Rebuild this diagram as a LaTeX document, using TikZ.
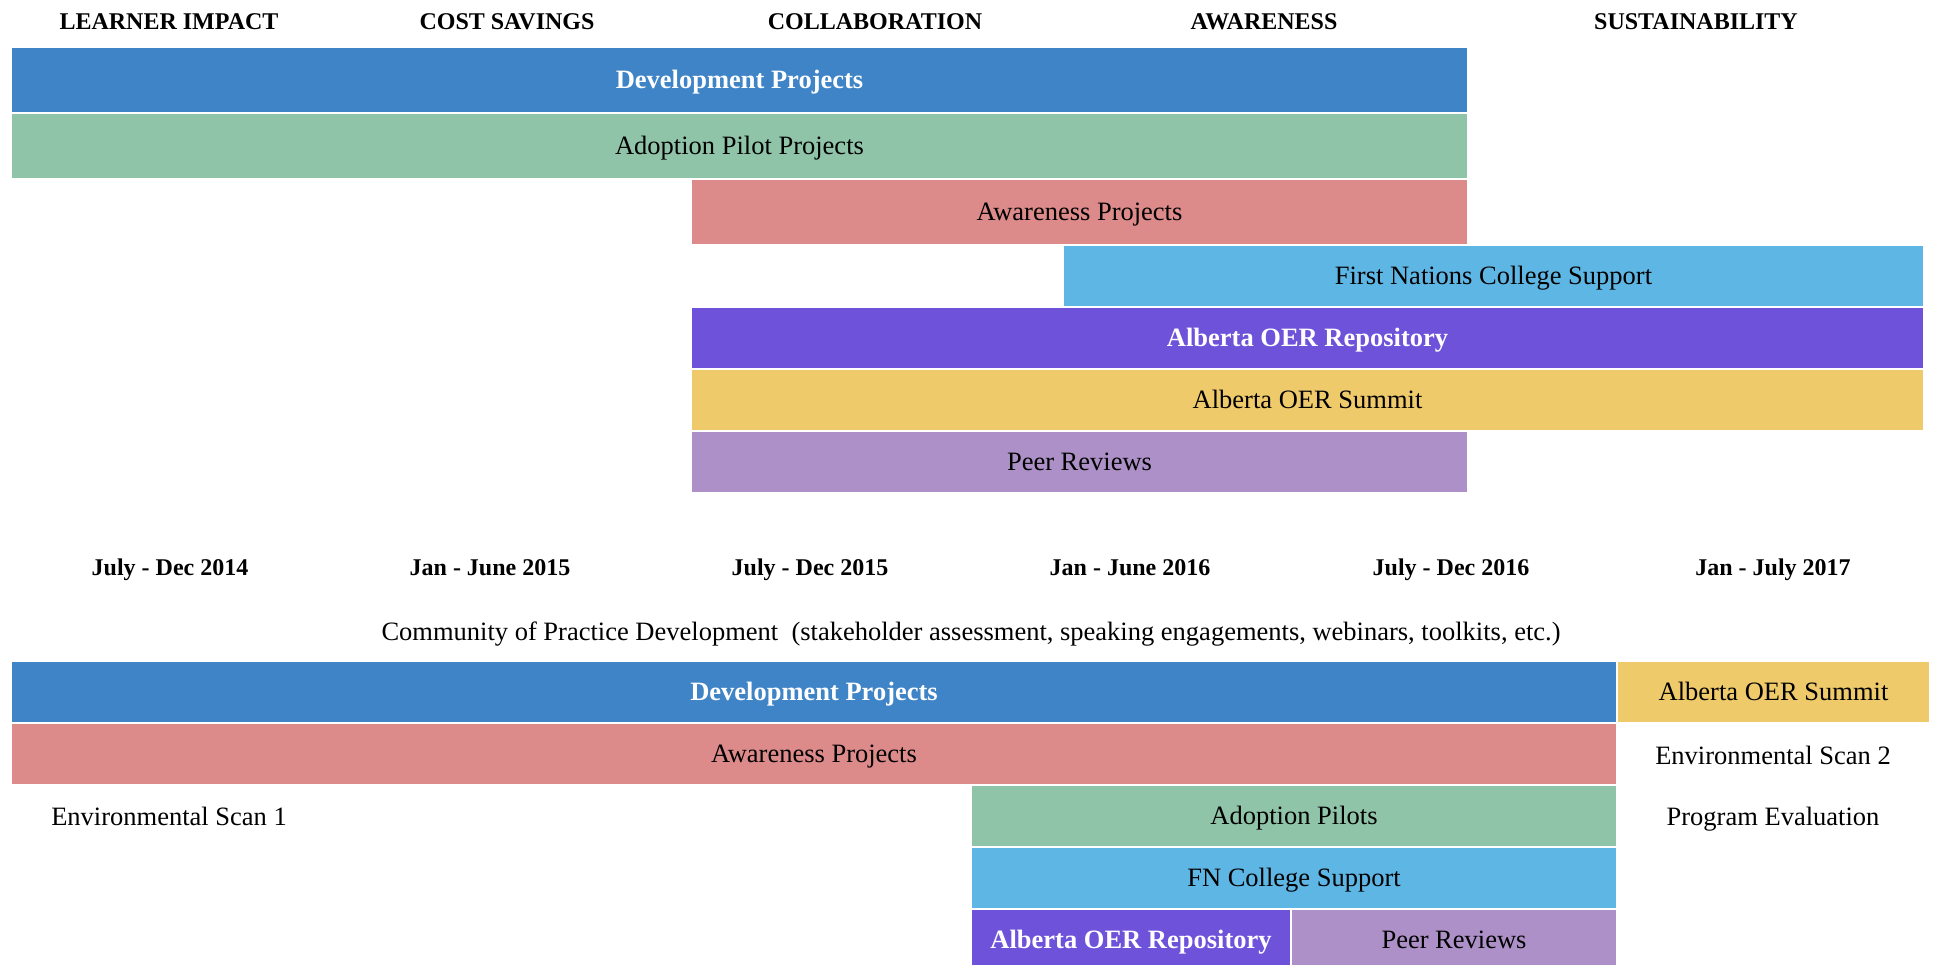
\documentclass[tikz,border=0pt]{standalone}
\usepackage{fontspec}
\setmainfont{Liberation Serif}
\definecolor{cblue}{RGB}{63,132,198}
\definecolor{cgreen}{RGB}{143,196,169}
\definecolor{cpink}{RGB}{220,138,138}
\definecolor{clblue}{RGB}{94,182,228}
\definecolor{cpurple}{RGB}{110,83,218}
\definecolor{cyellow}{RGB}{239,202,107}
\definecolor{clav}{RGB}{172,144,199}
\tikzset{
  bar/.style={draw=none, inner sep=0pt, text height=17.5pt, text depth=0pt,
    font=\fontsize{26.5}{30}\selectfont},
  wbar/.style={bar, text=white, font=\fontsize{26.5}{30}\selectfont\bfseries},
  hdr/.style={inner sep=0pt, text height=15.9pt, text depth=0pt,
    font=\fontsize{24}{28}\selectfont\bfseries},
  lbl/.style={inner sep=0pt, text height=17.5pt, text depth=0pt,
    font=\fontsize{26.5}{30}\selectfont}
}
\begin{document}
\begin{tikzpicture}[x=1pt,y=-1pt]
\useasboundingbox (0,0) rectangle (1935,965);
\clip (0,0) rectangle (1935,965);
% headers
\node[hdr] (h1) at (169,21.5) {LEARNER IMPACT};
\node[hdr] (h2) at (507,21.5) {COST SAVINGS};
\node[hdr] (h3) at (875,21.5) {COLLABORATION};
\node[hdr] (h4) at (1264,21.5) {AWARENESS};
\node[hdr] (h5) at (1696,21.5) {SUSTAINABILITY};
% top bars
\node[wbar, fill=cblue, minimum width=1455pt, minimum height=64pt] (dev1) at (739.5,80) {Development Projects};
\node[bar, fill=cgreen, minimum width=1455pt, minimum height=64pt] (adopt1) at (739.5,146) {Adoption Pilot Projects};
\node[bar, fill=cpink, minimum width=775pt, minimum height=64pt] (aware1) at (1079.5,212) {Awareness Projects};
\node[bar, fill=clblue, minimum width=859pt, minimum height=60pt] (fn1) at (1493.5,276) {First Nations College Support};
\node[wbar, fill=cpurple, minimum width=1231pt, minimum height=60pt] (repo1) at (1307.5,338) {Alberta OER Repository};
\node[bar, fill=cyellow, minimum width=1231pt, minimum height=60pt] (summit1) at (1307.5,400) {Alberta OER Summit};
\node[bar, fill=clav, minimum width=775pt, minimum height=60pt] (peer1) at (1079.5,462) {Peer Reviews};
% dates
\node[hdr] (d1) at (170,567.5) {July - Dec 2014};
\node[hdr] (d2) at (490,567.5) {Jan - June 2015};
\node[hdr] (d3) at (810,567.5) {July - Dec 2015};
\node[hdr] (d4) at (1130,567.5) {Jan - June 2016};
\node[hdr] (d5) at (1451,567.5) {July - Dec 2016};
\node[hdr] (d6) at (1773,567.5) {Jan - July 2017};
\node[lbl] (cop) at (971,632) {Community of Practice Development \ (stakeholder assessment, speaking engagements, webinars, toolkits, etc.)};
% bottom bars
\node[wbar, fill=cblue, minimum width=1604pt, minimum height=60pt] (dev2) at (814,692) {Development Projects};
\node[bar, fill=cyellow, minimum width=311pt, minimum height=60pt] (summit2) at (1773.5,692) {Alberta OER Summit};
\node[bar, fill=cpink, minimum width=1604pt, minimum height=60pt] (aware2) at (814,754) {Awareness Projects};
\node[bar, fill=cgreen, minimum width=644pt, minimum height=60pt] (adopt2) at (1294,816) {Adoption Pilots};
\node[bar, fill=clblue, minimum width=644pt, minimum height=60pt] (fn2) at (1294,878) {FN College Support};
\node[wbar, fill=cpurple, minimum width=318pt, minimum height=60pt] (repo2) at (1131,940) {Alberta OER Repository};
\node[bar, fill=clav, minimum width=324pt, minimum height=60pt] (peer2) at (1454,940) {Peer Reviews};
\node[lbl] (env2) at (1773,755.5) {Environmental Scan 2};
\node[lbl] (peval) at (1773,817) {Program Evaluation};
\node[lbl] (env1) at (169,817) {Environmental Scan 1};
\end{tikzpicture}
\end{document}
